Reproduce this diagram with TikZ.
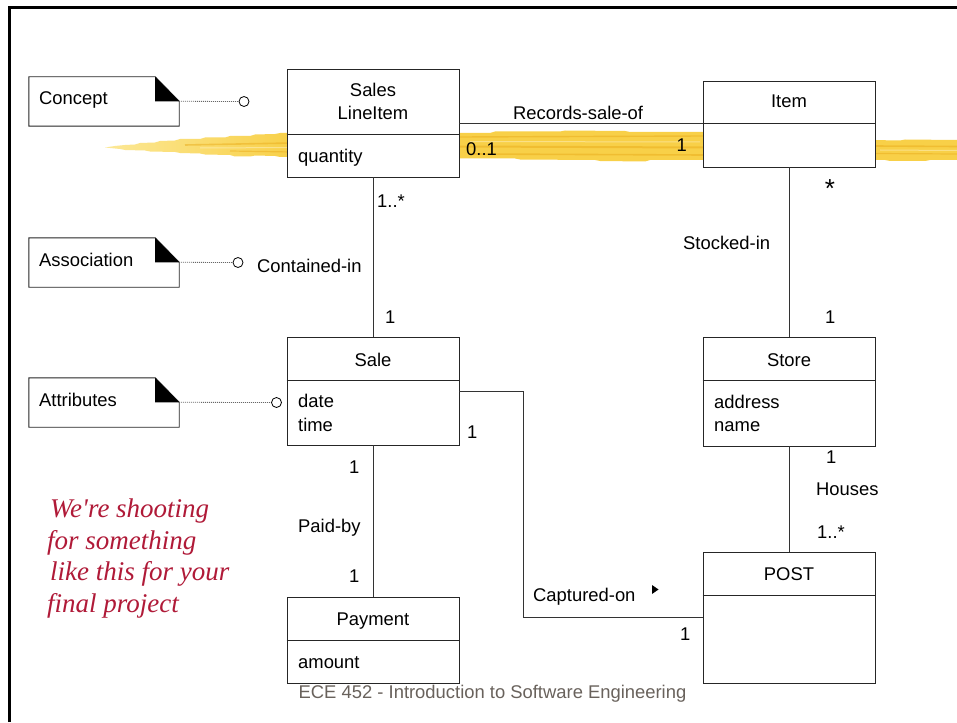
\documentclass[tikz,border=0pt]{standalone}
\usepackage{fontspec}
\setmainfont{Liberation Sans}
\newfontfamily\slideserif{Liberation Serif}
\definecolor{hlmain}{RGB}{248,208,72}
\definecolor{hldark}{RGB}{234,172,28}
\definecolor{hllight}{RGB}{252,232,150}
\definecolor{notered}{RGB}{176,26,56}
\definecolor{footgray}{RGB}{105,98,92}
\begin{document}
\begin{tikzpicture}[x=1pt,y=-1pt,
  lbl/.style={inner sep=0pt, font=\fontsize{18.4}{23}\selectfont},
  classbox/.style={draw=black!85, line width=0.9pt, fill=white, inner sep=0pt,
    minimum width=172, minimum height=#1},
  divider/.style={draw=black!85, line width=0.9pt},
  assoc/.style={draw=black!80, line width=0.9pt},
  notebox/.style={inner sep=0pt, minimum width=150, minimum height=49},
  noteline/.style={draw=black!85, line width=0.9pt, fill=white},
  pin/.style={circle, draw=black, line width=0.8pt, fill=white, inner sep=0pt, minimum size=10},
  pinline/.style={draw=black!60, line width=0.8pt, dash pattern=on 1pt off 1pt},
  hlstreak/.style={line width=#1, hldark, opacity=0.5},
  hlstreak/.default=1.6pt,
  hlgap/.style={line width=1pt, white, opacity=0.35},
  remark/.style={inner sep=0pt, anchor=base west, text=notered,
    font=\slideserif\itshape\fontsize{27}{32}\selectfont},
]
\useasboundingbox (0,0) rectangle (957,722);
\fill[white] (0,0) rectangle (957,722);

% slide frame
\draw[line width=2.5pt, black] (9.5,722) -- (9.5,7.5) -- (957,7.5);

% highlighter stroke behind the top row: tapered left end
\path[left color=hllight, right color=hlmain]
  (105,147.5) -- (115,146) -- (125,145) -- (135,144.5) -- (140,143) -- (155,142.5)
  -- (160,141) -- (175,140.5) -- (180,139) -- (200,139) -- (205,137.5) -- (225,137.5)
  -- (230,136) -- (250,136) -- (255,134.5) -- (275,134) -- (280,133) -- (292,133)
  -- (292,157) -- (280,157) -- (275,156) -- (255,155.5) -- (250,156.5) -- (235,156.5)
  -- (230,155) -- (205,154.5) -- (200,153.5) -- (180,153) -- (175,152) -- (150,151.5)
  -- (145,150.5) -- (125,150) -- (120,149) -- cycle;
% middle part
\fill[hlmain] (455,133) -- (490,133) -- (495,131.5) -- (560,131.5) -- (565,130.5)
  -- (625,131) -- (630,132) -- (707,132) -- (707,160) -- (650,160) -- (645,161.5)
  -- (600,161) -- (595,160) -- (520,159.5) -- (515,158.5) -- (455,158.5) -- cycle;
% right part
\fill[hlmain] (871,140) -- (900,140.5) -- (905,139.5) -- (957,140) -- (957,160)
  -- (930,160) -- (925,161) -- (890,161) -- (885,160) -- (871,160) -- cycle;
% streaks of the marker
\draw[hlstreak] (185,145) -- (292,143);
\draw[hlstreak=1.2pt] (230,151) -- (292,152);
\draw[hlstreak=1.4pt] (460,137) -- (703,136);
\draw[hlstreak=2pt] (460,146.5) -- (703,147.5);
\draw[hlstreak] (470,154) -- (703,155);
\draw[hlstreak] (875,146) -- (957,146.5);
\draw[hlstreak=1.2pt] (875,153.5) -- (957,154);
\draw[hlgap] (470,141.5) -- (700,142);
\draw[hlgap] (880,150) -- (957,150.5);
\draw[hlgap] (200,148) -- (292,147.5);

% class boxes
\node[classbox=108] (sli)   at (373,123)   {};
\node[classbox=86]  (item)  at (789,124)   {};
\node[classbox=108] (sale)  at (373,391)   {};
\node[classbox=109] (store) at (789,391.5) {};
\node[classbox=131] (post)  at (789,617.5) {};
\node[classbox=86]  (pay)   at (373,640)   {};

\path[divider] (sli.west |- 0,134)   -- (sli.east |- 0,134);
\path[divider] (item.west |- 0,123)  -- (item.east |- 0,123);
\path[divider] (sale.west |- 0,380)  -- (sale.east |- 0,380);
\path[divider] (store.west |- 0,380) -- (store.east |- 0,380);
\path[divider] (post.west |- 0,595)  -- (post.east |- 0,595);
\path[divider] (pay.west |- 0,640)   -- (pay.east |- 0,640);

% class names and attributes
\node[lbl, anchor=base] (sliname1) at (373,97)  {Sales};
\node[lbl, anchor=base] (sliname2) at (373,120) {LineItem};
\node[lbl, anchor=base west] (sliattr) at (298,162) {quantity};
\node[lbl, anchor=base] (itemname) at (789,108) {Item};
\node[lbl, anchor=base] (salename) at (373,366) {Sale};
\node[lbl, anchor=base west] (saledate) at (298,407) {date};
\node[lbl, anchor=base west] (saletime) at (298,431) {time};
\node[lbl, anchor=base] (storename) at (789,366) {Store};
\node[lbl, anchor=base west] (storeaddr) at (714,408) {address};
\node[lbl, anchor=base west] (storeattr) at (714,431) {name};
\node[lbl, anchor=base] (postname) at (789,580) {POST};
\node[lbl, anchor=base] (payname) at (373,625) {Payment};
\node[lbl, anchor=base west] (payattr) at (298,668) {amount};

% associations
\path[assoc] (sli.east) -- (sli.east -| item.west);
\path[assoc] (sli.south) -- (sale.north);
\path[assoc] (item.south) -- (store.north);
\path[assoc] (store.south) -- (post.north);
\path[assoc] (sale.south) -- (pay.north);
\path[assoc] (sale.east) -- ++(64,0) |- (post.west);

% association names and multiplicities
\node[lbl, anchor=base west] (recname) at (513,120) {Records-sale-of};
\node[lbl, anchor=base west] (rec01) at (466,156) {0..1};
\node[lbl, anchor=base east] (rec1) at (687,152) {1};
\node[lbl, anchor=base west] (cont1n) at (377,207) {1..*};
\node[lbl, anchor=base west] (contname) at (257,272) {Contained-in};
\node[lbl, anchor=base west] (cont1) at (385,323) {1};
\node[inner sep=0pt, anchor=base, font=\fontsize{26}{30}\selectfont] (stockmany) at (830,197) {*};
\node[lbl, anchor=base west] (stockname) at (683,249) {Stocked-in};
\node[lbl, anchor=base west] (stock1) at (825,323) {1};
\node[lbl, anchor=base west] (house1) at (826,463) {1};
\node[lbl, anchor=base west] (housename) at (816,495) {Houses};
\node[lbl, anchor=base west] (house1n) at (817,538) {1..*};
\node[lbl, anchor=base west] (paid1a) at (349,473) {1};
\node[lbl, anchor=base west] (paidname) at (298,532) {Paid-by};
\node[lbl, anchor=base west] (paid1b) at (349,582) {1};
\node[lbl, anchor=base west] (capt1a) at (467,438) {1};
\node[lbl, anchor=base west] (captname) at (533,601) {Captured-on};
\node[lbl, anchor=base west] (capt1b) at (680,640) {1};
\fill (652,585) -- (658.5,589.5) -- (652,594) -- cycle;

% notes pinned to the diagram
\node[notebox] (concept) at (104,101.5) {};
\node[notebox] (assocnote) at (104,262.5) {};
\node[notebox] (attrnote) at (104,402.5) {};
\foreach \n in {concept,assocnote,attrnote}{
  \path[noteline] (\n.south west) -- (\n.north west) -- ([xshift=-24pt]\n.north east)
    -- ([yshift=-24.5pt]\n.north east) -- (\n.south east) -- cycle;
  \fill ([xshift=-24pt]\n.north east) -- ([xshift=-24pt,yshift=-24.5pt]\n.north east)
    -- ([yshift=-24.5pt]\n.north east) -- cycle;
}
\node[lbl, anchor=base west] (concepttext) at (39,105) {Concept};
\node[lbl, anchor=base west] (assoctext) at (39,266) {Association};
\node[lbl, anchor=base west] (attrtext) at (39,406) {Attributes};

\node[pin] (pinconcept) at (244,101.5) {};
\node[pin] (pinassoc) at (238,262.5) {};
\node[pin] (pinattr) at (276.5,402.5) {};
\path[pinline] ([yshift=-24.5pt]concept.north east) -- (pinconcept.west);
\path[pinline] ([yshift=-24.5pt]assocnote.north east) -- (pinassoc.west);
\path[pinline] ([yshift=-24.5pt]attrnote.north east) -- (pinattr.west);

% remark and footer
\node[remark] (remark1) at (50,517) {We're shooting};
\node[remark] (remark2) at (47,549) {for something};
\node[remark] (remark3) at (50,580) {like this for your};
\node[remark] (remark4) at (47,612) {final project};
\node[lbl, anchor=base, text=footgray] (footer) at (492.5,698) {ECE 452 - Introduction to Software Engineering};
\end{tikzpicture}
\end{document}
